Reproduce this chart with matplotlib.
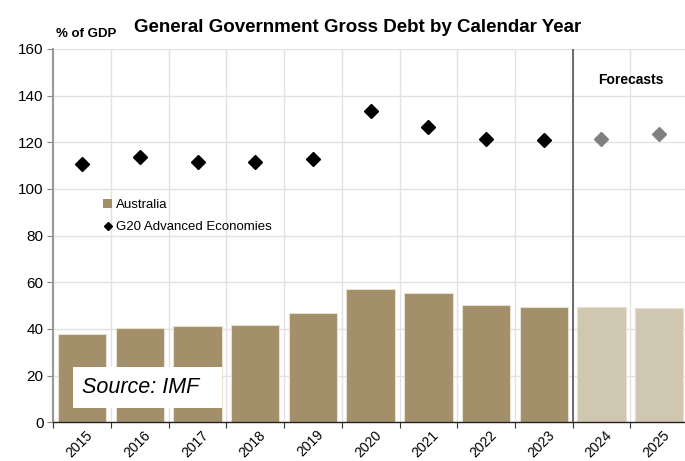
import numpy as np
import matplotlib
matplotlib.use('Agg')
import matplotlib.pyplot as plt
from matplotlib.lines import Line2D
from matplotlib.patches import Patch, Rectangle

plt.rcParams['font.family'] = ['Liberation Sans', 'DejaVu Sans']

years = ['2015', '2016', '2017', '2018', '2019', '2020', '2021', '2022', '2023', '2024', '2025']
australia = [37.7, 40.5, 41.3, 41.7, 46.7, 57.0, 55.5, 50.1, 49.4, 49.4, 49.1]
g20_adv = [110.7, 113.7, 111.7, 111.4, 112.7, 133.5, 126.6, 121.2, 121.0, 121.5, 123.4]
n_actual = 9  # 2024 and 2025 are forecasts

bar_col = '#a38f69'
bar_fc_col = '#d0c7b1'
W, H = 685, 461
fig = plt.figure(figsize=(W / 100, H / 100), dpi=100)
# axes in pixel coords: left 53, right 688 (spills a bit past edge), bottom 422, top 49
ax = fig.add_axes([53.3 / W, (H - 422.3) / H, (688 - 53.3) / W, (422.3 - 48.9) / H])

x = np.arange(len(years))
cols = [bar_col if i < n_actual else bar_fc_col for i in x]
ax.bar(x, australia, width=0.84, color=cols, edgecolor='#e6dfd2', linewidth=0.8, zorder=2)

ax.plot(x[:n_actual], g20_adv[:n_actual], 'D', color='black', markersize=7.5, zorder=3)
ax.plot(x[n_actual:], g20_adv[n_actual:], 'D', color='#808080', markersize=7.5, zorder=3)

ax.set_xlim(-0.5, len(years) - 0.5)
ax.set_ylim(0, 160)
ax.set_yticks(np.arange(0, 161, 20))
ax.set_xticks(np.arange(-0.5, len(years), 1.0))
ax.set_xticklabels([])
ax.set_xticks(x + 0.06, minor=True)
ax.set_xticklabels(years, minor=True, rotation=45, ha='right', rotation_mode='anchor', fontsize=10)
ax.tick_params(axis='x', which='minor', length=0, pad=4)
ax.tick_params(axis='x', which='major', length=4, direction='out', color='#333333')
ax.tick_params(axis='y', length=4, direction='out', color='#888888', labelsize=11, pad=3)

ax.grid(True, which='major', color='#e2e2e2', linewidth=1.0, zorder=0)
ax.set_axisbelow(True)
for s in ['top', 'right']:
    ax.spines[s].set_visible(False)
ax.spines['left'].set_color('#999999')
ax.spines['left'].set_linewidth(1.5)
ax.spines['bottom'].set_color('#222222')
ax.spines['bottom'].set_linewidth(1.0)

ax.axvline(n_actual - 0.5, color='#555555', linewidth=1.2, zorder=4)
ax.text(9.51, 146.7, 'Forecasts', ha='center', va='center', fontsize=10, fontweight='bold')

# source box
ax.add_patch(Rectangle((-0.159, 6.1), 2.583, 17.6, facecolor='white', edgecolor='none', zorder=5))
ax.text(0.0, 14.9, 'Source: IMF', fontsize=15.5, style='italic', va='center', ha='left', zorder=6)

handles = [Patch(facecolor=bar_col, edgecolor='none'),
           Line2D([], [], marker='D', color='black', linestyle='none', markersize=4)]
ax.legend(handles, ['Australia', 'G20 Advanced Economies'], loc='upper left',
          bbox_to_anchor=((103 - 53.3) / (688 - 53.3), (422.3 - 199) / (422.3 - 48.9)),
          frameon=False, fontsize=9.5, handlelength=0.7, handleheight=0.7,
          handletextpad=0.3, labelspacing=0.75, borderaxespad=0, borderpad=0)

fig.text(358 / W, 1 - 27 / H, 'General Government Gross Debt by Calendar Year',
         ha='center', va='center', fontsize=13.5, fontweight='bold')
fig.text(86 / W, 1 - 34 / H, '% of GDP', ha='center', va='center', fontsize=9.5,
         fontweight='bold')

fig.savefig('out.png', dpi=100)
